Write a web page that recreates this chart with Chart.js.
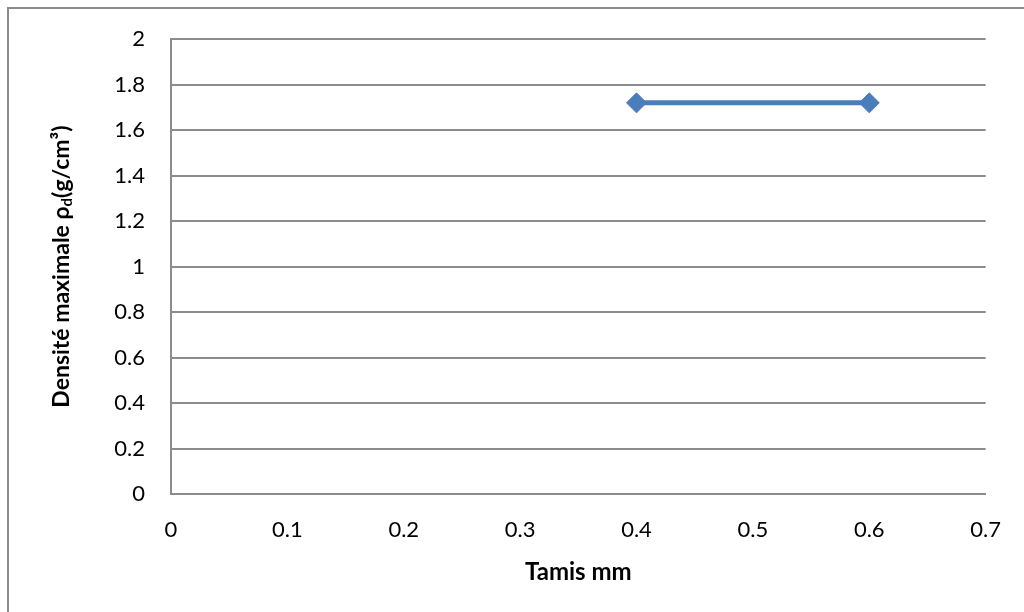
<!DOCTYPE html>
<html>
<head>
<meta charset="utf-8">
<script src="https://cdn.jsdelivr.net/npm/chart.js@4"></script>
<style>
  html, body { margin: 0; padding: 0; background: #fff; }
  #wrap { width: 1024px; height: 612px; }
</style>
</head>
<body>
<div id="wrap"><canvas id="chart" width="1024" height="612"></canvas></div>
<script>
"use strict";

// valeurs
const tamis = [0.4, 0.6];
const densite = [1.72, 1.72];
const xTicks = [0, 0.1, 0.2, 0.3, 0.4, 0.5, 0.6, 0.7];
const yTicks = [0, 0.2, 0.4, 0.6, 0.8, 1, 1.2, 1.4, 1.6, 1.8, 2];

const fontFamily = "Lato, 'Open Sans', sans-serif";

// cadre gris autour du graphique + titre vertical avec indice
const frameAndTitle = {
    id: "frameAndTitle",
    beforeDraw(chart) {
        const ctx = chart.ctx;
        ctx.save();
        ctx.fillStyle = "#fff";
        ctx.fillRect(0, 0, chart.width, chart.height);
        ctx.strokeStyle = "#8c8c8c";
        ctx.lineWidth = 2;
        ctx.strokeRect(8, 8, chart.width + 10, chart.height + 10);
        ctx.restore();
    },
    afterDraw(chart) {
        const ctx = chart.ctx;
        const area = chart.chartArea;
        const parts = [
            { t: "Densité maximale ρ", size: 23, dy: 0 },
            { t: "d", size: 15, dy: 5 },
            { t: "(g/cm³)", size: 23, dy: 0 }
        ];
        ctx.save();
        ctx.translate(62, (area.top + area.bottom) / 2);
        ctx.rotate(-Math.PI / 2);
        ctx.fillStyle = "#000";
        ctx.textBaseline = "middle";
        let total = 0;
        parts.forEach(p => {
            ctx.font = "bold " + p.size + "px " + fontFamily;
            total += ctx.measureText(p.t).width;
        });
        let x = -total / 2;
        parts.forEach(p => {
            ctx.font = "bold " + p.size + "px " + fontFamily;
            ctx.fillText(p.t, x, p.dy);
            x += ctx.measureText(p.t).width;
        });
        ctx.restore();
    }
};

new Chart(document.getElementById("chart"), {
    type: "scatter",
    data: {
        datasets: [{
            label: "Densité",
            data: tamis.map((t, i) => ({ x: t, y: densite[i] })),
            showLine: true,
            borderColor: "#4a7ebb",
            backgroundColor: "#4a7ebb",
            borderWidth: 5,
            pointStyle: "rectRot",
            pointRadius: 10,
            pointHoverRadius: 10,
            pointBorderWidth: 1
        }]
    },
    options: {
        responsive: false,
        animation: false,
        events: [],
        layout: { padding: { left: 0, right: 36, top: 34, bottom: 0 } },
        plugins: {
            legend: { display: false },
            tooltip: { enabled: false }
        },
        scales: {
            x: {
                type: "linear",
                min: 0,
                max: 0.7,
                afterBuildTicks: scale => { scale.ticks = xTicks.map(v => ({ value: v })); },
                afterFit: scale => { scale.height = 118; },
                grid: { display: false, drawTicks: false },
                border: { display: true, color: "#8c8c8c", width: 2 },
                ticks: {
                    color: "#000",
                    padding: 23,
                    maxRotation: 0,
                    font: { family: fontFamily, size: 22 },
                    callback: v => String(v)
                },
                title: {
                    display: true,
                    text: "Tamis mm",
                    color: "#000",
                    font: { family: fontFamily, size: 24, weight: "bold" },
                    padding: { top: 0, bottom: 25 }
                }
            },
            y: {
                min: 0,
                max: 2,
                afterBuildTicks: scale => { scale.ticks = yTicks.map(v => ({ value: v })); },
                afterFit: scale => { scale.width = 171; },
                grid: { color: "#8c8c8c", lineWidth: 2, drawTicks: false },
                border: { display: true, color: "#8c8c8c", width: 2 },
                ticks: {
                    color: "#000",
                    padding: 26,
                    font: { family: fontFamily, size: 22 },
                    callback: v => String(v)
                }
            }
        }
    },
    plugins: [frameAndTitle]
});
</script>
</body>
</html>
